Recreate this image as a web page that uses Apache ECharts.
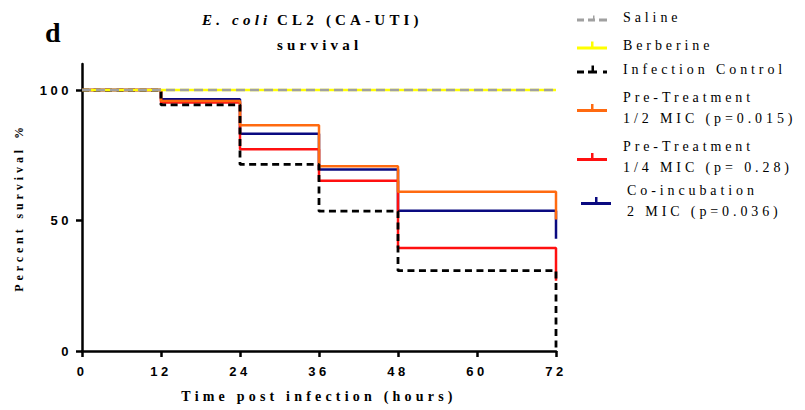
<!DOCTYPE html>
<html>
<head>
<meta charset="utf-8">
<script src="https://cdn.jsdelivr.net/npm/echarts@6/dist/echarts.min.js"></script>
<style>
  html, body { margin: 0; padding: 0; background: #fff; }
  #chart { width: 805px; height: 410px; }
  /* wide tracking on the chart text */
  #chart text { letter-spacing: 3.5px; }
  #chart text[style*="Times New Roman"], #chart text[font-family*="Times New Roman"] { letter-spacing: 3.9px; }
  #chart text[style*="Liberation Serif"], #chart text[font-family*="Liberation Serif"] { letter-spacing: 4.2px; }
</style>
</head>
<body>
<div id="chart"></div>
<script>
// Kaplan-Meier survival (%) at each observation time (hours)
const hours = [0, 12, 24, 36, 48, 72];
const xTicks = [0, 12, 24, 36, 48, 60, 72];
const yTicks = [0, 50, 100];

const saline           = [100, 100, 100, 100, 100, 100];
const berberine        = [100, 100, 100, 100, 100, 100];
const infectionControl = [100, 94.3, 71.5, 53.6, 30.8, 0];
const preHalfMIC       = [100, 95.8, 86.5, 70.8, 61.0, 50.4];
const preQuarterMIC    = [100, 95.2, 77.3, 65.3, 39.5, 26.9];
const coIncubation2MIC = [100, 96.5, 83.3, 69.6, 53.8, 43.0];

const names = {
  saline: 'Saline',
  berberine: 'Berberine',
  control: 'Infection Control',
  half: 'Pre-Treatment\n1/2 MIC (p=0.015)',
  quarter: 'Pre-Treatment\n1/4 MIC (p= 0.28)',
  coinc: 'Co-incubation\n2 MIC (p=0.036)'
};

const pairs = vals => hours.map((h, i) => [h, vals[i]]);

function stepSeries(name, vals, color, width, dash) {
  return {
    name: name,
    type: 'line',
    step: 'end',
    data: pairs(vals),
    symbol: 'none',
    animation: false,
    silent: true,
    itemStyle: { color: color },
    lineStyle: { color: color, width: width, type: dash || 'solid', cap: 'butt' }
  };
}

// legend glyphs: a line with a small censor tick
const iconSolid  = 'path://M0,5h30v3h-30z M14,0h2.5v5h-2.5z';
const iconSaline = 'path://M0,5h7v3h-7z M11,5h7v3h-7z M22,5h8v3h-8z M16,2h1.5v3h-1.5z M0,0h0.01v0.01h-0.01z';
const iconDashed = 'path://M0,5h7v3h-7z M11,5h9v3h-9z M14.5,0h2.5v5h-2.5z M26,5h4v3h-4z';

function legendItem(name, icon, left, top) {
  return {
    data: [{ name: name, icon: icon }],
    orient: 'vertical',
    left: left,
    top: top,
    padding: 0,
    itemWidth: 30,
    itemHeight: 8,
    selectedMode: false,
    formatter: n => '{s|}' + n.split('\n').join('\n{s|}'),
    textStyle: {
      fontFamily: 'Times New Roman',
      fontSize: 14,
      color: '#000',
      lineHeight: 21,
      rich: { s: { width: 11, lineHeight: 21 } }
    }
  };
}

const titleFont = { fontFamily: 'Liberation Serif', fontWeight: 'bold', fontSize: 15, color: '#000' };

const chart = echarts.init(document.getElementById('chart'), null, { renderer: 'svg' });

chart.setOption({
  backgroundColor: '#fff',
  animation: false,
  title: [
    {
      text: 'd', left: 45, top: 18, padding: 0,
      textStyle: { fontFamily: 'Liberation Serif', fontWeight: 'bold', fontSize: 28, color: '#000' }
    },
    {
      text: 'E. coli', left: 202, top: 12, padding: 0,
      textStyle: Object.assign({}, titleFont, { fontStyle: 'italic' })
    },
    {
      text: 'CL2 (CA-UTI)', left: 277, top: 12, padding: 0,
      textStyle: titleFont
    },
    {
      text: 'survival', left: 277, top: 37, padding: 0,
      textStyle: titleFont
    }
  ],
  legend: [
    legendItem(names.saline, iconSaline, 577, 7),
    legendItem(names.berberine, iconSolid, 577, 35),
    legendItem(names.control, iconDashed, 577, 59),
    legendItem(names.half, iconSolid, 577, 87),
    legendItem(names.quarter, iconSolid, 577, 136),
    legendItem(names.coinc, iconSolid, 581, 180)
  ],
  grid: { left: 82, right: 249, top: 64, bottom: 59, containLabel: false },
  xAxis: {
    type: 'value',
    min: 0, max: 72, interval: 12,
    name: 'Time post infection (hours)',
    nameLocation: 'middle',
    nameGap: 38,
    nameTextStyle: { fontFamily: 'Liberation Serif', fontWeight: 'bold', fontSize: 14, color: '#000' },
    splitLine: { show: false },
    axisLine: { lineStyle: { color: '#000', width: 2.5 } },
    axisTick: { show: true, length: 6, lineStyle: { color: '#000', width: 2.5 }, customValues: xTicks },
    axisLabel: {
      margin: 14, color: '#000', fontFamily: 'Arial', fontWeight: 'bold', fontSize: 13,
      customValues: xTicks
    }
  },
  yAxis: {
    type: 'value',
    min: 0, max: 110, interval: 50,
    name: 'Percent survival %',
    nameLocation: 'middle',
    nameGap: 57,
    nameTextStyle: { fontFamily: 'Times New Roman', fontWeight: 'bold', fontSize: 12, color: '#000' },
    splitLine: { show: false },
    axisLine: { show: true, lineStyle: { color: '#000', width: 2.5 } },
    axisTick: { show: true, length: 6, lineStyle: { color: '#000', width: 2.5 }, customValues: yTicks },
    axisLabel: {
      margin: 10, color: '#000', fontFamily: 'Arial', fontWeight: 'bold', fontSize: 13,
      customValues: yTicks
    }
  },
  series: [
    stepSeries(names.coinc, coIncubation2MIC, '#0a0a80', 2.5),
    stepSeries(names.quarter, preQuarterMIC, '#ff1010', 2.5),
    stepSeries(names.half, preHalfMIC, '#ff6a10', 2.5),
    stepSeries(names.control, infectionControl, '#000000', 2.8, [7, 4.5]),
    stepSeries(names.berberine, berberine, '#ffff00', 2.5),
    stepSeries(names.saline, saline, '#a0a0a0', 2.5, [9, 5])
  ]
});
</script>
</body>
</html>
